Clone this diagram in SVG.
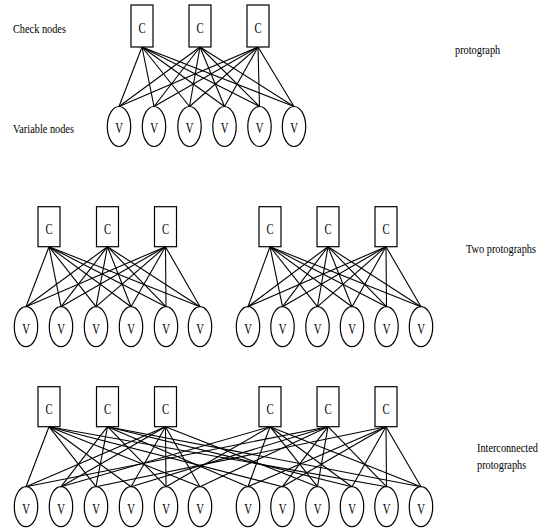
<svg xmlns="http://www.w3.org/2000/svg" width="539" height="529" viewBox="0 0 539 529">
<style>
rect{fill:#fff;stroke:#000;stroke-width:1.2}
ellipse{fill:#fff;stroke:#000;stroke-width:1.2}
line{stroke:#000;stroke-width:1.1}
text{font-family:"Liberation Serif","Times New Roman",serif;font-size:13.5px;fill:#000}
.n{text-anchor:middle;font-size:14px}
</style>
<g id="labels">
<text transform="translate(13,32.5) scale(0.764,1)">Check nodes</text>
<text transform="translate(13,133) scale(0.764,1)">Variable nodes</text>
<text transform="translate(455,54) scale(0.764,1)">protograph</text>
<text transform="translate(466,253) scale(0.764,1)">Two protographs</text>
<text transform="translate(477,452) scale(0.76,1)">Interconnected</text>
<text transform="translate(477,469) scale(0.764,1)">protographs</text>
</g>
<g id="connectors">
<!-- top -->
<line x1="142" y1="47" x2="119" y2="106.5"/><line x1="142" y1="47" x2="154" y2="106.5"/><line x1="142" y1="47" x2="189.5" y2="106.5"/><line x1="142" y1="47" x2="224.5" y2="106.5"/><line x1="142" y1="47" x2="259.5" y2="106.5"/><line x1="142" y1="47" x2="294" y2="106.5"/>
<line x1="200" y1="47" x2="119" y2="106.5"/><line x1="200" y1="47" x2="154" y2="106.5"/><line x1="200" y1="47" x2="189.5" y2="106.5"/><line x1="200" y1="47" x2="224.5" y2="106.5"/><line x1="200" y1="47" x2="259.5" y2="106.5"/><line x1="200" y1="47" x2="294" y2="106.5"/>
<line x1="258" y1="47" x2="119" y2="106.5"/><line x1="258" y1="47" x2="154" y2="106.5"/><line x1="258" y1="47" x2="189.5" y2="106.5"/><line x1="258" y1="47" x2="224.5" y2="106.5"/><line x1="258" y1="47" x2="259.5" y2="106.5"/><line x1="258" y1="47" x2="294" y2="106.5"/>
<!-- middle left -->
<line x1="49" y1="246.7" x2="26" y2="306.7"/><line x1="49" y1="246.7" x2="61" y2="306.7"/><line x1="49" y1="246.7" x2="96" y2="306.7"/><line x1="49" y1="246.7" x2="131" y2="306.7"/><line x1="49" y1="246.7" x2="166" y2="306.7"/><line x1="49" y1="246.7" x2="200" y2="306.7"/>
<line x1="107.5" y1="246.7" x2="26" y2="306.7"/><line x1="107.5" y1="246.7" x2="61" y2="306.7"/><line x1="107.5" y1="246.7" x2="96" y2="306.7"/><line x1="107.5" y1="246.7" x2="131" y2="306.7"/><line x1="107.5" y1="246.7" x2="166" y2="306.7"/><line x1="107.5" y1="246.7" x2="200" y2="306.7"/>
<line x1="165.5" y1="246.7" x2="26" y2="306.7"/><line x1="165.5" y1="246.7" x2="61" y2="306.7"/><line x1="165.5" y1="246.7" x2="96" y2="306.7"/><line x1="165.5" y1="246.7" x2="131" y2="306.7"/><line x1="165.5" y1="246.7" x2="166" y2="306.7"/><line x1="165.5" y1="246.7" x2="200" y2="306.7"/>
<!-- middle right -->
<line x1="270" y1="246.7" x2="248" y2="306.7"/><line x1="270" y1="246.7" x2="282.5" y2="306.7"/><line x1="270" y1="246.7" x2="317.5" y2="306.7"/><line x1="270" y1="246.7" x2="352" y2="306.7"/><line x1="270" y1="246.7" x2="386.5" y2="306.7"/><line x1="270" y1="246.7" x2="421" y2="306.7"/>
<line x1="328" y1="246.7" x2="248" y2="306.7"/><line x1="328" y1="246.7" x2="282.5" y2="306.7"/><line x1="328" y1="246.7" x2="317.5" y2="306.7"/><line x1="328" y1="246.7" x2="352" y2="306.7"/><line x1="328" y1="246.7" x2="386.5" y2="306.7"/><line x1="328" y1="246.7" x2="421" y2="306.7"/>
<line x1="386" y1="246.7" x2="248" y2="306.7"/><line x1="386" y1="246.7" x2="282.5" y2="306.7"/><line x1="386" y1="246.7" x2="317.5" y2="306.7"/><line x1="386" y1="246.7" x2="352" y2="306.7"/><line x1="386" y1="246.7" x2="386.5" y2="306.7"/><line x1="386" y1="246.7" x2="421" y2="306.7"/>
<!-- bottom: interconnected -->
<line x1="49" y1="426.7" x2="26" y2="486.7"/><line x1="49" y1="426.7" x2="282.5" y2="486.7"/><line x1="49" y1="426.7" x2="96" y2="486.7"/><line x1="49" y1="426.7" x2="131" y2="486.7"/><line x1="49" y1="426.7" x2="386.5" y2="486.7"/><line x1="49" y1="426.7" x2="200" y2="486.7"/>
<line x1="270" y1="426.7" x2="248" y2="486.7"/><line x1="270" y1="426.7" x2="61" y2="486.7"/><line x1="270" y1="426.7" x2="317.5" y2="486.7"/><line x1="270" y1="426.7" x2="352" y2="486.7"/><line x1="270" y1="426.7" x2="166" y2="486.7"/><line x1="270" y1="426.7" x2="421" y2="486.7"/>
<line x1="107.5" y1="426.7" x2="248" y2="486.7"/><line x1="107.5" y1="426.7" x2="61" y2="486.7"/><line x1="107.5" y1="426.7" x2="96" y2="486.7"/><line x1="107.5" y1="426.7" x2="352" y2="486.7"/><line x1="107.5" y1="426.7" x2="166" y2="486.7"/><line x1="107.5" y1="426.7" x2="421" y2="486.7"/>
<line x1="328" y1="426.7" x2="26" y2="486.7"/><line x1="328" y1="426.7" x2="282.5" y2="486.7"/><line x1="328" y1="426.7" x2="317.5" y2="486.7"/><line x1="328" y1="426.7" x2="131" y2="486.7"/><line x1="328" y1="426.7" x2="386.5" y2="486.7"/><line x1="328" y1="426.7" x2="200" y2="486.7"/>
<line x1="165.5" y1="426.7" x2="26" y2="486.7"/><line x1="165.5" y1="426.7" x2="61" y2="486.7"/><line x1="165.5" y1="426.7" x2="317.5" y2="486.7"/><line x1="165.5" y1="426.7" x2="131" y2="486.7"/><line x1="165.5" y1="426.7" x2="166" y2="486.7"/><line x1="165.5" y1="426.7" x2="200" y2="486.7"/>
<line x1="386" y1="426.7" x2="248" y2="486.7"/><line x1="386" y1="426.7" x2="282.5" y2="486.7"/><line x1="386" y1="426.7" x2="96" y2="486.7"/><line x1="386" y1="426.7" x2="352" y2="486.7"/><line x1="386" y1="426.7" x2="386.5" y2="486.7"/><line x1="386" y1="426.7" x2="421" y2="486.7"/>
</g>
<g id="top-c1"><rect x="131" y="5" width="22" height="42"/><text class="n" transform="translate(142,33) scale(0.764,1)">C</text></g>
<g id="top-c2"><rect x="189" y="5" width="22" height="42"/><text class="n" transform="translate(200,33) scale(0.764,1)">C</text></g>
<g id="top-c3"><rect x="247" y="5" width="22" height="42"/><text class="n" transform="translate(258,33) scale(0.764,1)">C</text></g>
<g id="top-v1"><ellipse cx="119" cy="126.5" rx="11.7" ry="20"/><text class="n" transform="translate(119,133) scale(0.764,1)">V</text></g>
<g id="top-v2"><ellipse cx="154" cy="126.5" rx="11.7" ry="20"/><text class="n" transform="translate(154,133) scale(0.764,1)">V</text></g>
<g id="top-v3"><ellipse cx="189.5" cy="126.5" rx="11.7" ry="20"/><text class="n" transform="translate(189.5,133) scale(0.764,1)">V</text></g>
<g id="top-v4"><ellipse cx="224.5" cy="126.5" rx="11.7" ry="20"/><text class="n" transform="translate(224.5,133) scale(0.764,1)">V</text></g>
<g id="top-v5"><ellipse cx="259.5" cy="126.5" rx="11.7" ry="20"/><text class="n" transform="translate(259.5,133) scale(0.764,1)">V</text></g>
<g id="top-v6"><ellipse cx="294" cy="126.5" rx="11.7" ry="20"/><text class="n" transform="translate(294,133) scale(0.764,1)">V</text></g>
<g id="mid-l-c1"><rect x="38" y="206.7" width="22" height="40"/><text class="n" transform="translate(49,233.5) scale(0.764,1)">C</text></g>
<g id="mid-l-c2"><rect x="96.5" y="206.7" width="22" height="40"/><text class="n" transform="translate(107.5,233.5) scale(0.764,1)">C</text></g>
<g id="mid-l-c3"><rect x="154.5" y="206.7" width="22" height="40"/><text class="n" transform="translate(165.5,233.5) scale(0.764,1)">C</text></g>
<g id="mid-r-c1"><rect x="259" y="206.7" width="22" height="40"/><text class="n" transform="translate(270,233.5) scale(0.764,1)">C</text></g>
<g id="mid-r-c2"><rect x="317" y="206.7" width="22" height="40"/><text class="n" transform="translate(328,233.5) scale(0.764,1)">C</text></g>
<g id="mid-r-c3"><rect x="375" y="206.7" width="22" height="40"/><text class="n" transform="translate(386,233.5) scale(0.764,1)">C</text></g>
<g id="mid-l-v1"><ellipse cx="26" cy="326.7" rx="11.7" ry="20"/><text class="n" transform="translate(26,333.5) scale(0.764,1)">V</text></g>
<g id="mid-l-v2"><ellipse cx="61" cy="326.7" rx="11.7" ry="20"/><text class="n" transform="translate(61,333.5) scale(0.764,1)">V</text></g>
<g id="mid-l-v3"><ellipse cx="96" cy="326.7" rx="11.7" ry="20"/><text class="n" transform="translate(96,333.5) scale(0.764,1)">V</text></g>
<g id="mid-l-v4"><ellipse cx="131" cy="326.7" rx="11.7" ry="20"/><text class="n" transform="translate(131,333.5) scale(0.764,1)">V</text></g>
<g id="mid-l-v5"><ellipse cx="166" cy="326.7" rx="11.7" ry="20"/><text class="n" transform="translate(166,333.5) scale(0.764,1)">V</text></g>
<g id="mid-l-v6"><ellipse cx="200" cy="326.7" rx="11.7" ry="20"/><text class="n" transform="translate(200,333.5) scale(0.764,1)">V</text></g>
<g id="mid-r-v1"><ellipse cx="248" cy="326.7" rx="11.7" ry="20"/><text class="n" transform="translate(248,333.5) scale(0.764,1)">V</text></g>
<g id="mid-r-v2"><ellipse cx="282.5" cy="326.7" rx="11.7" ry="20"/><text class="n" transform="translate(282.5,333.5) scale(0.764,1)">V</text></g>
<g id="mid-r-v3"><ellipse cx="317.5" cy="326.7" rx="11.7" ry="20"/><text class="n" transform="translate(317.5,333.5) scale(0.764,1)">V</text></g>
<g id="mid-r-v4"><ellipse cx="352" cy="326.7" rx="11.7" ry="20"/><text class="n" transform="translate(352,333.5) scale(0.764,1)">V</text></g>
<g id="mid-r-v5"><ellipse cx="386.5" cy="326.7" rx="11.7" ry="20"/><text class="n" transform="translate(386.5,333.5) scale(0.764,1)">V</text></g>
<g id="mid-r-v6"><ellipse cx="421" cy="326.7" rx="11.7" ry="20"/><text class="n" transform="translate(421,333.5) scale(0.764,1)">V</text></g>
<g id="bot-l-c1"><rect x="38" y="386.7" width="22" height="40"/><text class="n" transform="translate(49,413.5) scale(0.764,1)">C</text></g>
<g id="bot-l-c2"><rect x="96.5" y="386.7" width="22" height="40"/><text class="n" transform="translate(107.5,413.5) scale(0.764,1)">C</text></g>
<g id="bot-l-c3"><rect x="154.5" y="386.7" width="22" height="40"/><text class="n" transform="translate(165.5,413.5) scale(0.764,1)">C</text></g>
<g id="bot-r-c1"><rect x="259" y="386.7" width="22" height="40"/><text class="n" transform="translate(270,413.5) scale(0.764,1)">C</text></g>
<g id="bot-r-c2"><rect x="317" y="386.7" width="22" height="40"/><text class="n" transform="translate(328,413.5) scale(0.764,1)">C</text></g>
<g id="bot-r-c3"><rect x="375" y="386.7" width="22" height="40"/><text class="n" transform="translate(386,413.5) scale(0.764,1)">C</text></g>
<g id="bot-l-v1"><ellipse cx="26" cy="506.7" rx="11.7" ry="20"/><text class="n" transform="translate(26,513.5) scale(0.764,1)">V</text></g>
<g id="bot-l-v2"><ellipse cx="61" cy="506.7" rx="11.7" ry="20"/><text class="n" transform="translate(61,513.5) scale(0.764,1)">V</text></g>
<g id="bot-l-v3"><ellipse cx="96" cy="506.7" rx="11.7" ry="20"/><text class="n" transform="translate(96,513.5) scale(0.764,1)">V</text></g>
<g id="bot-l-v4"><ellipse cx="131" cy="506.7" rx="11.7" ry="20"/><text class="n" transform="translate(131,513.5) scale(0.764,1)">V</text></g>
<g id="bot-l-v5"><ellipse cx="166" cy="506.7" rx="11.7" ry="20"/><text class="n" transform="translate(166,513.5) scale(0.764,1)">V</text></g>
<g id="bot-l-v6"><ellipse cx="200" cy="506.7" rx="11.7" ry="20"/><text class="n" transform="translate(200,513.5) scale(0.764,1)">V</text></g>
<g id="bot-r-v1"><ellipse cx="248" cy="506.7" rx="11.7" ry="20"/><text class="n" transform="translate(248,513.5) scale(0.764,1)">V</text></g>
<g id="bot-r-v2"><ellipse cx="282.5" cy="506.7" rx="11.7" ry="20"/><text class="n" transform="translate(282.5,513.5) scale(0.764,1)">V</text></g>
<g id="bot-r-v3"><ellipse cx="317.5" cy="506.7" rx="11.7" ry="20"/><text class="n" transform="translate(317.5,513.5) scale(0.764,1)">V</text></g>
<g id="bot-r-v4"><ellipse cx="352" cy="506.7" rx="11.7" ry="20"/><text class="n" transform="translate(352,513.5) scale(0.764,1)">V</text></g>
<g id="bot-r-v5"><ellipse cx="386.5" cy="506.7" rx="11.7" ry="20"/><text class="n" transform="translate(386.5,513.5) scale(0.764,1)">V</text></g>
<g id="bot-r-v6"><ellipse cx="421" cy="506.7" rx="11.7" ry="20"/><text class="n" transform="translate(421,513.5) scale(0.764,1)">V</text></g>
</svg>
